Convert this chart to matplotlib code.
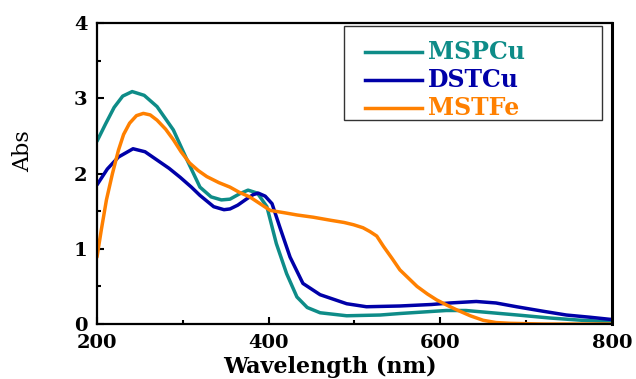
import matplotlib
matplotlib.use("Agg")
import matplotlib.pyplot as plt
from matplotlib.patches import Rectangle
from matplotlib.lines import Line2D
from matplotlib.ticker import MultipleLocator

# MSPCu (teal)
mspcu_wl = [200, 210, 220, 230, 241, 255, 270, 289, 305, 320, 333, 345, 355, 366, 376,
            387, 398, 409, 421, 433, 445, 460, 491, 530, 553, 580, 607, 630, 650, 690, 728, 765, 800]
mspcu_abs = [2.43, 2.66, 2.88, 3.03, 3.09, 3.04, 2.89, 2.58, 2.18, 1.82, 1.69, 1.65, 1.66, 1.73, 1.78,
             1.74, 1.56, 1.07, 0.67, 0.36, 0.22, 0.15, 0.11, 0.12, 0.14, 0.16, 0.18, 0.18, 0.16, 0.12, 0.08, 0.05, 0.03]

# DSTCu (navy)
dstcu_wl = [200, 212, 225, 242, 256, 270, 284, 297, 310, 320, 336, 348, 355, 364, 374,
            382, 388, 396, 404, 413, 425, 440, 460, 491, 514, 553, 590, 611, 642, 665, 689, 720, 747, 775, 800]
dstcu_abs = [1.85, 2.06, 2.22, 2.33, 2.29, 2.18, 2.07, 1.95, 1.82, 1.71, 1.56, 1.52, 1.53, 1.58, 1.66,
             1.72, 1.74, 1.70, 1.60, 1.29, 0.89, 0.54, 0.39, 0.27, 0.23, 0.24, 0.26, 0.28, 0.30, 0.28, 0.23, 0.17, 0.12, 0.09, 0.06]

# MSTFe (orange)
mstfe_wl = [200, 205, 211, 218, 225, 231, 238, 246, 254, 262, 270, 280, 289, 298, 308, 318,
            328, 342, 355, 366, 378, 390, 402, 418, 433, 452, 472, 488, 499, 510, 518, 526, 534,
            544, 553, 563, 573, 585, 596, 608, 619, 635, 650, 665, 681, 720, 760, 800]
mstfe_abs = [0.89, 1.25, 1.65, 2.00, 2.31, 2.52, 2.67, 2.77, 2.80, 2.78, 2.71, 2.59, 2.45, 2.29, 2.14, 2.04,
             1.96, 1.88, 1.82, 1.75, 1.69, 1.60, 1.51, 1.48, 1.45, 1.42, 1.38, 1.35, 1.32, 1.28, 1.23, 1.17, 1.03,
             0.87, 0.72, 0.61, 0.50, 0.40, 0.32, 0.25, 0.19, 0.11, 0.05, 0.02, 0.01, 0.0, 0.0, 0.0]

labels = ["MSPCu", "DSTCu", "MSTFe"]
colors = ["#0E8C88", "#0000A8", "#FF8000"]

x_ticks = [200, 400, 600, 800]
y_ticks = [0, 1, 2, 3, 4]

plt.rcParams['font.family'] = ['DejaVu Serif']

fig = plt.figure(figsize=(6.36, 3.79), dpi=100)
ax = fig.add_axes([0.1525, 0.145, 0.8095, 0.794])

series = [(mspcu_wl, mspcu_abs), (dstcu_wl, dstcu_abs), (mstfe_wl, mstfe_abs)]
for (wl, ab), c in zip(series, colors):
    ax.plot(wl, ab, color=c, lw=2.5, solid_capstyle='round', solid_joinstyle='round')

ax.set_xlim(200, 800)
ax.set_ylim(0, 4)
ax.set_xticks(x_ticks)
ax.set_yticks(y_ticks)
ax.xaxis.set_minor_locator(MultipleLocator(100))
ax.yaxis.set_minor_locator(MultipleLocator(0.5))
ax.tick_params(which='both', direction='in', top=False, right=False, width=1.5)
ax.tick_params(which='major', length=5, labelsize=14)
ax.tick_params(axis='y', which='major', pad=7)
ax.tick_params(axis='x', which='major', pad=7)
ax.tick_params(which='minor', length=3)
for lab in ax.get_xticklabels() + ax.get_yticklabels():
    lab.set_fontweight('bold')
for s in ax.spines.values():
    s.set_linewidth(1.6)
ax.spines['right'].set_linewidth(2.2)

ax.set_xlabel("Wavelength (nm)", fontsize=16, fontweight='bold')
ax.xaxis.set_label_coords(0.452, -0.105)
ax.set_ylabel("Abs", fontsize=16, fontweight='normal')
ax.yaxis.set_label_coords(-0.122, 0.575)

# legend box (drawn manually to match the reference layout)
ax.add_patch(Rectangle((0.48, 0.678), 0.50, 0.312, transform=ax.transAxes,
                       fill=False, edgecolor='#333333', lw=1.0, zorder=5))
row_y = [0.905, 0.811, 0.718]
for lab, c, yy in zip(labels, colors, row_y):
    ax.add_line(Line2D([0.520, 0.631], [yy, yy], transform=ax.transAxes, color=c, lw=2.5))
    ax.text(0.643, yy, lab, transform=ax.transAxes, color=c, fontsize=17,
            fontweight='bold', va='center', ha='left')

fig.savefig("out.png", dpi=100)
